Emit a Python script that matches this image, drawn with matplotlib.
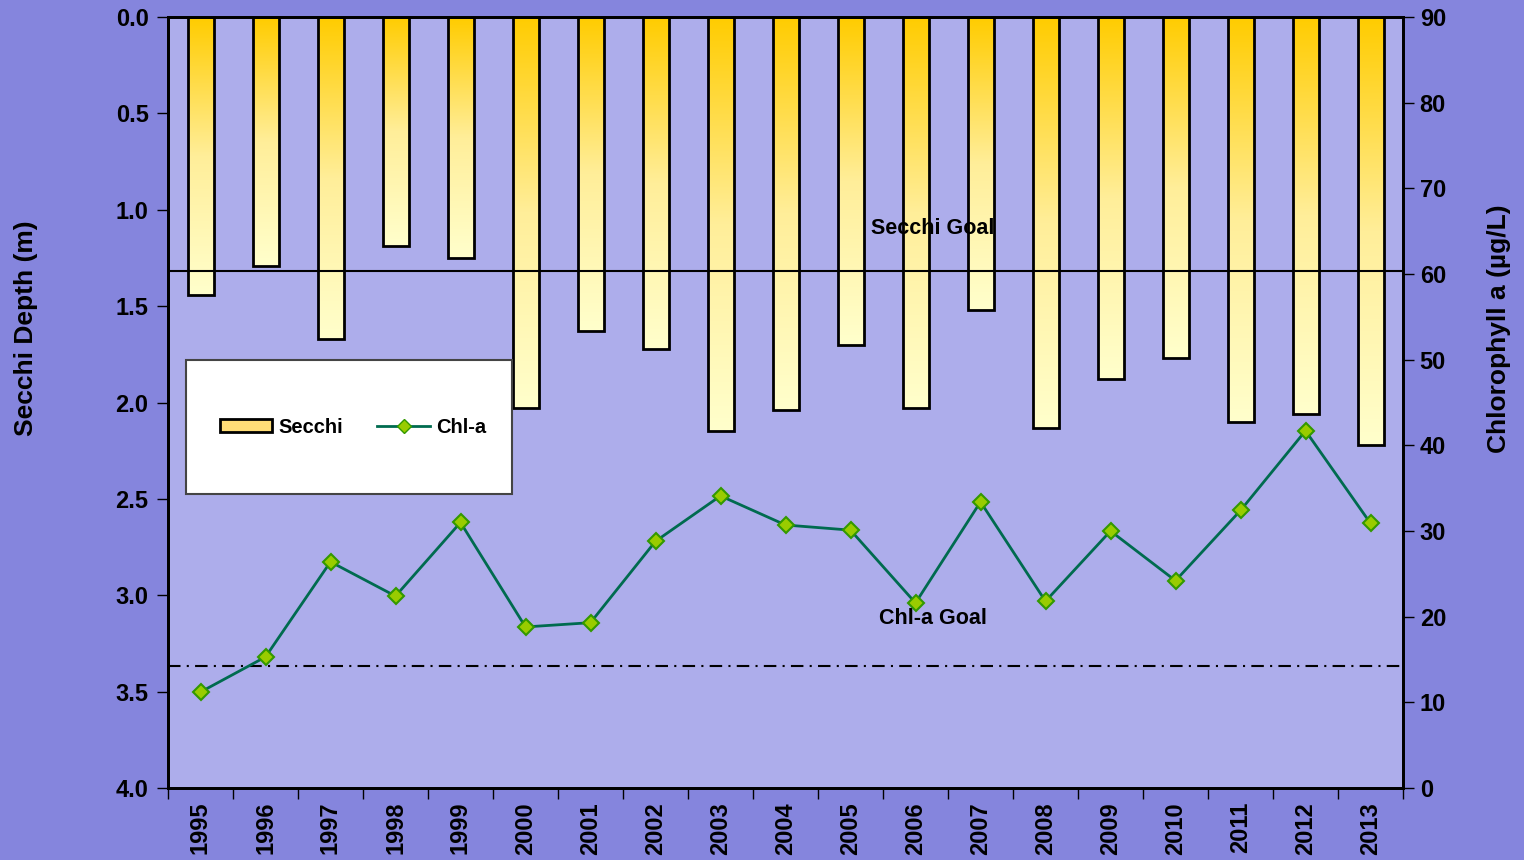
import matplotlib
matplotlib.use('Agg')
import matplotlib.pyplot as plt
import numpy as np
from matplotlib.colors import LinearSegmentedColormap
from matplotlib.patches import Rectangle, Patch
from matplotlib.lines import Line2D

years = [str(y) for y in range(1995, 2014)]
secchi = [1.44, 1.29, 1.67, 1.19, 1.25, 2.03, 1.63, 1.72, 2.15, 2.04, 1.70,
          2.03, 1.52, 2.13, 1.88, 1.77, 2.10, 2.06, 2.22]
chla = [11.2, 15.3, 26.4, 22.4, 31.0, 18.8, 19.3, 28.8, 34.1, 30.7, 30.1,
        21.6, 33.4, 21.8, 30.0, 24.2, 32.4, 41.7, 30.9]
secchi_goal = 1.32
chla_goal = 14.2

plt.rcParams['font.family'] = ['Liberation Sans', 'DejaVu Sans']
plt.rcParams['font.weight'] = 'bold'

fig = plt.figure(figsize=(15.24, 8.6), dpi=100, facecolor='#8585dd')
ax = fig.add_axes([168/1524, 1 - 788/860, 1235/1524, 771/860])
ax.set_facecolor('#adadeb')
ax2 = ax.twinx()

x = np.arange(len(years))
w = 0.4
cmap = LinearSegmentedColormap.from_list('sec', ['#ffcc00', '#ffee99', '#ffffcc'])
grad = np.linspace(0, 1, 256).reshape(-1, 1)
bars = ax.bar(x, secchi, width=w, facecolor='none', edgecolor='black', linewidth=2, zorder=3)
for b, xi, d in zip(bars, x, secchi):
    im = ax.imshow(grad, cmap=cmap, aspect='auto', origin='upper',
                   extent=(xi - w/2, xi + w/2, d, 0), zorder=2)
    im.set_clip_path(b)

ax.axhline(secchi_goal, color='black', lw=1.5, zorder=4)
ax.text(11.27, 1.095, 'Secchi Goal', ha='center', va='center', fontsize=15.5, fontweight='bold', zorder=5)

ax.set_xlim(-0.5, len(years) - 0.5)
ax.set_ylim(4, 0)
ax.set_yticks(np.arange(0, 4.01, 0.5))
ax.set_yticklabels([f'{v:.1f}' for v in np.arange(0, 4.01, 0.5)])
ax.set_xticks(x)
ax.set_xticklabels(years, rotation=90)
ax.set_xticks(np.arange(-0.5, len(years), 1), minor=True)
ax.tick_params(axis='x', which='major', length=0, pad=10, labelsize=17)
ax.tick_params(axis='x', which='minor', length=8, width=1, direction='out')
ax.tick_params(axis='y', length=8, width=1, direction='out', labelsize=17, pad=6)
ax.set_ylabel('Secchi Depth (m)', fontsize=19, fontweight='bold')
ax.yaxis.set_label_coords((38 - 168)/1235, (788 - 328)/771)

ax2.plot(x, chla, color='#006b4f', lw=2, marker='D', markersize=8,
         markerfacecolor='#99cc00', markeredgecolor='#339900', markeredgewidth=1.5, zorder=5)
ax2.axhline(chla_goal, color='black', lw=1.5, linestyle=(0, (6, 3, 1, 3)), zorder=4)
ax2.text(11.27, 19.8, 'Chl-a Goal', ha='center', va='center', fontsize=15.5, fontweight='bold')
ax2.set_ylim(0, 90)
ax2.set_yticks(np.arange(0, 91, 10))
ax2.tick_params(axis='y', length=8, width=1, direction='out', labelsize=17, pad=4)
ax2.set_ylabel('Chlorophyll a (µg/L)', fontsize=19, fontweight='bold')
ax2.yaxis.set_label_coords((1487 - 168)/1235, (788 - 329)/771)

for a in (ax, ax2):
    for s in a.spines.values():
        s.set_linewidth(2)
        s.set_color('black')

# legend box
box = Rectangle((18/1235, 1 - (494-17)/771), 326/1235, 134/771, transform=ax2.transAxes,
                facecolor='white', edgecolor='#444444', lw=1.5, zorder=10)
ax2.add_patch(box)
handles = [Patch(facecolor='#ffdd77', edgecolor='black', lw=2),
           Line2D([], [], color='#006b4f', lw=2, marker='D', markersize=7,
                  markerfacecolor='#99cc00', markeredgecolor='#339900')]
leg = ax2.legend(handles, ['Secchi', 'Chl-a'], ncol=2, frameon=False,
                 loc='center', bbox_to_anchor=((353 - 168)/1235, 1 - (427-17)/771),
                 fontsize=14.5, handlelength=2.6, handleheight=0.6, columnspacing=1.7, handletextpad=0.3)
leg.set_zorder(11)

fig.savefig('out.png', dpi=100, facecolor=fig.get_facecolor())
